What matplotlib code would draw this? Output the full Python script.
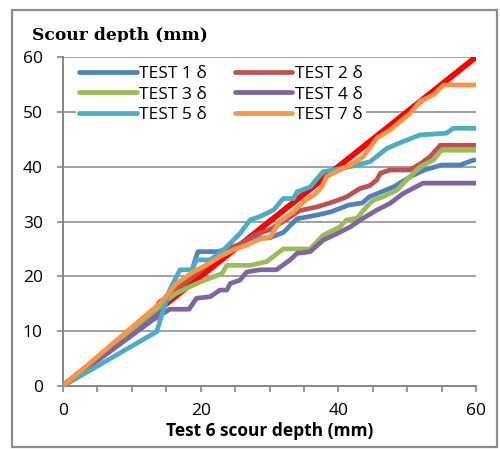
import matplotlib
matplotlib.use('Agg')
import matplotlib.pyplot as plt
from matplotlib.patches import Rectangle
from matplotlib.transforms import Bbox

# Test 6 scour depth (x) vs scour depth of the other tests (y), in mm
ref_x = [0, 60]
ref_y = [0, 60]

test1_x = [0, 14, 17, 18.5, 19.2, 19.6, 22.5, 25, 28, 30, 32, 34, 37, 39, 41.5, 43.5, 44.5, 48, 50.5, 52.5, 55, 57.7, 59.6, 60]
test1_y = [0, 14, 19, 20, 23, 24.5, 24.5, 25.5, 27, 27, 28, 30.5, 31.2, 31.8, 33, 33.4, 34.5, 36.3, 38.2, 39.4, 40.3, 40.3, 41.2, 41.2]

test2_x = [0, 13, 14, 16, 18, 20, 22, 24, 26, 27.8, 30, 32, 34.4, 37, 39.3, 41.2, 43.1, 44.5, 45.6, 46.1, 47.5, 50.4, 52, 53.3, 54.8, 60]
test2_y = [0, 13.5, 15.3, 17, 19, 21, 23.5, 25, 26, 27.5, 28.5, 30, 32, 32.7, 33.6, 34.5, 36, 36.5, 37.6, 38.8, 39.4, 39.4, 40.6, 41.8, 43.9, 43.9]

test3_x = [0, 14, 16.3, 18.9, 21, 23.1, 23.8, 27.2, 29.6, 32, 35.9, 37.8, 40.2, 41.2, 42.7, 44.1, 45.1, 46.5, 48.5, 50.4, 51.9, 53.8, 55, 60]
test3_y = [0, 14.5, 16.8, 18.4, 19.5, 20.5, 22, 22, 22.7, 25, 25, 27.5, 29, 30.3, 30.6, 32.7, 33.9, 34.5, 35.7, 38.2, 40, 41.2, 43, 43]

test4_x = [0, 13, 15.5, 18.3, 19.4, 21.4, 22.8, 23.8, 24.3, 25.7, 26.7, 28.6, 31, 33, 34, 35.9, 37.8, 39.8, 41.7, 43.6, 45.6, 47.5, 49.4, 52.3, 60]
test4_y = [0, 12, 14, 14, 16, 16.3, 17.5, 17.5, 18.7, 19.3, 20.8, 21.2, 21.2, 23, 24.2, 24.5, 26.6, 27.8, 29, 30.6, 32.1, 33.3, 35.1, 37, 37]

test5_x = [0, 13.6, 15.5, 17, 18.7, 19.4, 21.4, 23.3, 25.7, 27.2, 28.6, 30.6, 32, 33.5, 34, 35.9, 37.8, 39.3, 41.7, 44.6, 46.1, 47, 49.4, 51.9, 55.7, 56.7, 60]
test5_y = [0, 9.9, 17.5, 21.2, 21.2, 23, 23, 24.8, 27.8, 30.3, 30.9, 32.1, 34.2, 34.2, 35.4, 36.3, 39.1, 39.4, 40, 40.9, 42.4, 43.3, 44.6, 45.8, 46.1, 47, 47]

test7_x = [0, 14.2, 16.5, 18.9, 20.9, 22.8, 24.7, 26.7, 28.6, 30.1, 31.5, 33.5, 34.9, 36.4, 37.6, 38.3, 40.2, 41.7, 43.6, 45.6, 47.5, 50.4, 51.9, 53.8, 55.3, 60]
test7_y = [0, 15.2, 18.7, 20.8, 22.1, 23.6, 24.8, 25.7, 26.8, 27.2, 30, 31.8, 33.6, 34.8, 36.3, 38.2, 39.4, 40.3, 41.8, 45.2, 46.7, 49.7, 51.9, 53.1, 54.9, 54.9]

series = [
    ('TEST 1 δ', test1_x, test1_y, '#4F81BD'),
    ('TEST 2 δ', test2_x, test2_y, '#C0504D'),
    ('TEST 3 δ', test3_x, test3_y, '#9BBB59'),
    ('TEST 4 δ', test4_x, test4_y, '#8064A2'),
    ('TEST 5 δ', test5_x, test5_y, '#4BACC6'),
    ('TEST 7 δ', test7_x, test7_y, '#F79646'),
]

plt.rcParams['font.family'] = ['Open Sans', 'DejaVu Sans']

fig = plt.figure(figsize=(5, 4.49), dpi=100)
ax = fig.add_axes([0.126, 0.1403, 0.826, 0.7327])

ax.plot(ref_x, ref_y, color='#FF0000', lw=4.2, solid_capstyle='butt', zorder=2)

handles = {}
for name, xs, ys, col in series:
    ln, = ax.plot(xs, ys, color=col, lw=3.4, solid_joinstyle='round',
                  solid_capstyle='round', label=name, zorder=3)
    handles[name] = ln

ax.set_xlim(0, 60)
ax.set_ylim(0, 60)
ax.set_xticks([0, 20, 40, 60])
ax.set_xticks(range(0, 61, 5), minor=True)
ax.set_yticks(range(0, 61, 10))
ax.tick_params(axis='both', labelsize=12.5, color='#868686', width=1.2, length=4.5, direction='out')
ax.tick_params(axis='x', which='minor', color='#868686', width=1.2, length=4.5, direction='out')
ax.tick_params(axis='x', pad=8)
ax.tick_params(axis='y', pad=10)
ax.grid(axis='y', color='#A0A0A0', lw=1.4)
ax.set_axisbelow(True)
for s in ['top', 'right']:
    ax.spines[s].set_visible(False)
for s in ['left', 'bottom']:
    ax.spines[s].set_color('#868686')
    ax.spines[s].set_linewidth(1.4)

order = ['TEST 1 δ', 'TEST 3 δ', 'TEST 5 δ', 'TEST 2 δ', 'TEST 4 δ', 'TEST 7 δ']
leg = ax.legend([handles[n] for n in order], order, ncol=2, loc='upper left',
                bbox_to_anchor=(0.01, 1.01), fontsize=12.5, handlelength=3.3,
                handletextpad=0.15, columnspacing=1.6, labelspacing=0.25,
                frameon=True, fancybox=False, borderpad=0.2)
leg.get_frame().set_edgecolor('none')
leg.get_frame().set_facecolor('white')
leg.get_frame().set_alpha(1)

ax.set_xlabel('Test 6 scour depth (mm)', fontsize=12.5, fontweight='bold', labelpad=2)

t = fig.text(0.064, 0.912, 'Scour depth (mm)', fontsize=12.3, fontweight='bold',
             family='DejaVu Serif', ha='left', va='baseline')
t.set_clip_box(Bbox.from_extents(0, 449 - 41.5, 500, 449))
t.set_clip_on(True)

# outer chart-area border
fig.patches.append(Rectangle((12, 2), 485, 437, transform=None, fill=False,
                             edgecolor='#8C8C8C', lw=1.6))

fig.savefig('out.png', dpi=100)
